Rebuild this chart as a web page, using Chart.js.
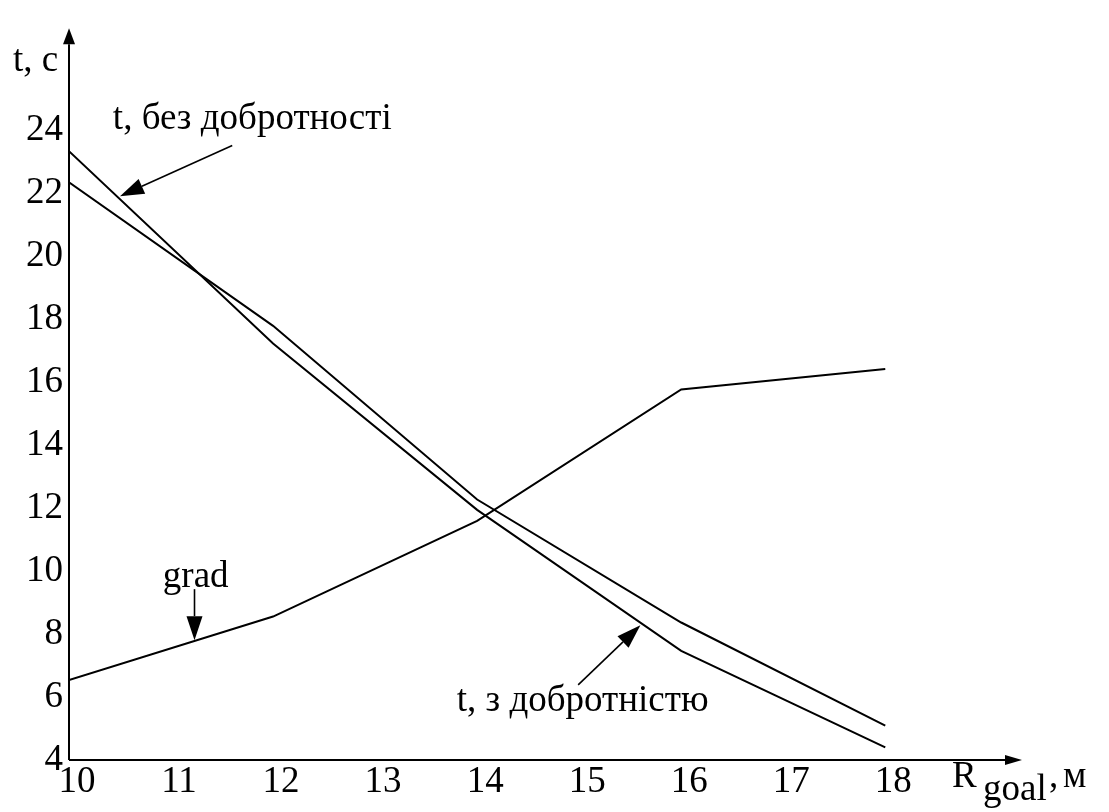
<!DOCTYPE html>
<html lang="uk">
<head>
<meta charset="UTF-8">
<title>t (R goal)</title>
<script src="https://cdn.jsdelivr.net/npm/chart.js"></script>
<style>
    html, body {
        margin: 0;
        padding: 0;
        background: #fff;
    }
    #wrap {
        width: 1109px;
        height: 812px;
    }
</style>
</head>
<body>
<div id="wrap"><canvas id="chart"></canvas></div>
<script>
// data
const rGoal = [10, 12, 14, 16, 18];
const tWithout = [23.35, 17.24, 11.95, 7.47, 4.40];   // t, без добротності
const tWith = [22.36, 17.80, 12.28, 8.37, 5.09];      // t, з добротністю
const grad = [6.54, 8.56, 11.60, 15.78, 16.43];
const xTicks = [10, 11, 12, 13, 14, 15, 16, 17, 18];
const yTicks = [4, 6, 8, 10, 12, 14, 16, 18, 20, 22, 24];

const FAMILY = '"Liberation Serif", "Times New Roman", serif';
const FONT = '37px ' + FAMILY;

// callouts: text position, arrow tail and arrow tip, in data units
const notes = [
    { text: 't, без добротності', at: [10.43, 24.06], from: [11.6, 23.53], to: [10.5, 21.92] },
    { text: 't, з добротністю', at: [13.8, 5.55], from: [14.99, 6.39], to: [15.6, 8.28] },
    { text: 'grad', at: [10.92, 9.49], from: [11.23, 9.43], to: [11.23, 7.81] }
];

function points(ys) {
    return rGoal.map((x, i) => ({ x: x, y: ys[i] }));
}

function arrow(ctx, x1, y1, x2, y2, len, half) {
    const a = Math.atan2(y2 - y1, x2 - x1);
    const bx = x2 - len * Math.cos(a);
    const by = y2 - len * Math.sin(a);
    ctx.beginPath();
    ctx.moveTo(x1, y1);
    ctx.lineTo(bx, by);
    ctx.stroke();
    ctx.beginPath();
    ctx.moveTo(x2, y2);
    ctx.lineTo(bx + half * Math.sin(a), by - half * Math.cos(a));
    ctx.lineTo(bx - half * Math.sin(a), by + half * Math.cos(a));
    ctx.closePath();
    ctx.fill();
}

const decor = {
    id: 'decor',
    afterDraw(chart) {
        const ctx = chart.ctx;
        const area = chart.chartArea;
        const xs = chart.scales.x;
        const ys = chart.scales.y;
        ctx.save();
        ctx.strokeStyle = '#000';
        ctx.fillStyle = '#000';
        ctx.lineWidth = 2;

        // axes with arrows
        arrow(ctx, area.left, area.bottom, area.left, area.top, 16, 6);
        arrow(ctx, area.left, area.bottom, area.right, area.bottom, 17, 5);

        ctx.font = FONT;
        ctx.textBaseline = 'alphabetic';
        ctx.textAlign = 'left';
        ctx.fillText('t, c', area.left - 56, area.top + 43);
        ctx.fillText('R', area.right - 70, area.bottom + 27);
        ctx.fillText('goal', area.right - 39, area.bottom + 40);
        ctx.fillText(',', area.right + 27, area.bottom + 27);
        ctx.fillText('м', area.right + 41, area.bottom + 27);

        notes.forEach(n => {
            ctx.fillText(n.text, xs.getPixelForValue(n.at[0]), ys.getPixelForValue(n.at[1]));
            ctx.lineWidth = 1.6;
            arrow(ctx,
                xs.getPixelForValue(n.from[0]), ys.getPixelForValue(n.from[1]),
                xs.getPixelForValue(n.to[0]), ys.getPixelForValue(n.to[1]),
                24, 8);
        });
        ctx.restore();
    }
};

const lineStyle = {
    borderColor: '#000',
    borderWidth: 2,
    pointRadius: 0,
    tension: 0,
    fill: false
};

new Chart(document.getElementById('chart'), {
    type: 'line',
    data: {
        datasets: [
            Object.assign({ label: 't, без добротності', data: points(tWithout) }, lineStyle),
            Object.assign({ label: 't, з добротністю', data: points(tWith) }, lineStyle),
            Object.assign({ label: 'grad', data: points(grad) }, lineStyle)
        ]
    },
    options: {
        responsive: true,
        maintainAspectRatio: false,
        animation: false,
        layout: { padding: { top: 10, right: 87, left: 0, bottom: 0 } },
        plugins: {
            legend: { display: false },
            tooltip: { enabled: false }
        },
        scales: {
            x: {
                type: 'linear',
                min: 10,
                max: 19.34,
                grid: { display: false, drawTicks: false },
                border: { display: false },
                afterBuildTicks: s => { s.ticks = xTicks.map(v => ({ value: v })); },
                afterFit: s => { s.height = 52; },
                ticks: {
                    color: '#000',
                    padding: 0,
                    labelOffset: 8,
                    maxRotation: 0,
                    autoSkip: false,
                    font: { family: FAMILY, size: 37, lineHeight: 1.2 }
                }
            },
            y: {
                type: 'linear',
                min: 4,
                max: 27.26,
                grid: { display: false, drawTicks: false },
                border: { display: false },
                afterBuildTicks: s => { s.ticks = yTicks.map(v => ({ value: v })); },
                afterFit: s => { s.width = 69; },
                ticks: {
                    color: '#000',
                    padding: 6,
                    autoSkip: false,
                    font: { family: FAMILY, size: 37, lineHeight: 1.2 }
                }
            }
        }
    },
    plugins: [decor]
});
</script>
</body>
</html>
